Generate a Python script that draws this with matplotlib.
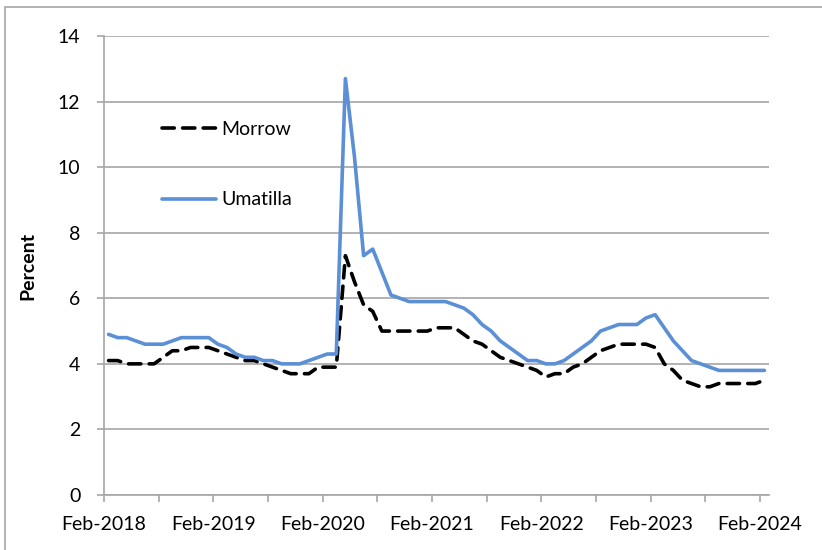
import matplotlib
matplotlib.use("Agg")
import matplotlib.pyplot as plt
from matplotlib.patches import Rectangle
import numpy as np
import pandas as pd

# monthly series, Feb-2018 .. Feb-2024
months = pd.date_range("2018-02-01", periods=73, freq="MS").strftime("%b-%Y").tolist()

morrow = [4.1, 4.1, 4.0, 4.0, 4.0, 4.0, 4.2, 4.4, 4.4, 4.5, 4.5, 4.5,
          4.4, 4.3, 4.2, 4.1, 4.1, 4.0, 3.9, 3.8, 3.7, 3.7, 3.7, 3.9,
          3.9, 3.9, 7.3, 6.5, 5.8, 5.6, 5.0, 5.0, 5.0, 5.0, 5.0, 5.0,
          5.1, 5.1, 5.1, 4.9, 4.7, 4.6, 4.4, 4.2, 4.1, 4.0, 3.9, 3.8,
          3.6, 3.7, 3.7, 3.9, 4.0, 4.2, 4.4, 4.5, 4.6, 4.6, 4.6, 4.6,
          4.5, 4.0, 3.8, 3.5, 3.4, 3.3, 3.3, 3.4, 3.4, 3.4, 3.4, 3.4,
          3.5]

umatilla = [4.9, 4.8, 4.8, 4.7, 4.6, 4.6, 4.6, 4.7, 4.8, 4.8, 4.8, 4.8,
            4.6, 4.5, 4.3, 4.2, 4.2, 4.1, 4.1, 4.0, 4.0, 4.0, 4.1, 4.2,
            4.3, 4.3, 12.7, 10.3, 7.3, 7.5, 6.8, 6.1, 6.0, 5.9, 5.9, 5.9,
            5.9, 5.9, 5.8, 5.7, 5.5, 5.2, 5.0, 4.7, 4.5, 4.3, 4.1, 4.1,
            4.0, 4.0, 4.1, 4.3, 4.5, 4.7, 5.0, 5.1, 5.2, 5.2, 5.2, 5.4,
            5.5, 5.1, 4.7, 4.4, 4.1, 4.0, 3.9, 3.8, 3.8, 3.8, 3.8, 3.8,
            3.8]

yticks = [0, 2, 4, 6, 8, 10, 12, 14]

plt.rcParams['font.family'] = ['Lato', 'DejaVu Sans']

fig = plt.figure(figsize=(8.22, 5.5), dpi=100)
ax = fig.add_axes([104/822, 1-495/550, 665/822, 459/550])

# chart border (Excel style, cut off at right/bottom)
fig.patches.append(Rectangle((5/822, -0.1), 1.2, 1.1-7/550, transform=fig.transFigure,
                             fill=False, edgecolor='#a6a6a6', linewidth=1.2))

x = np.arange(len(months)) + 0.5
ax.plot(x, morrow, color='black', lw=2.6, linestyle=(0, (3.4, 2.3)),
        dash_capstyle='round', label='Morrow')
ax.plot(x, umatilla, color='#5b8fd6', lw=2.6, solid_capstyle='round', label='Umatilla')

ax.set_xlim(0, len(months))
ax.set_ylim(0, 14)
ax.set_yticks(yticks)
ax.set_xticks(np.arange(0, len(months), 6))
ax.set_xticklabels([months[i] if i % 12 == 0 else '' for i in range(0, len(months), 6)])

ax.grid(axis='y', color='#a6a6a6', linewidth=1.2)
ax.set_axisbelow(True)
for s in ['top', 'right']:
    ax.spines[s].set_visible(False)
for s in ['left', 'bottom']:
    ax.spines[s].set_color('#a6a6a6')
    ax.spines[s].set_linewidth(1.2)
ax.tick_params(axis='y', direction='out', length=5, width=1.2, color='#a6a6a6',
               pad=12, labelsize=14)
ax.tick_params(axis='x', direction='out', length=5, width=1.2, color='#a6a6a6',
               pad=10, labelsize=14)

ax.set_ylabel('Percent', fontsize=14, fontweight='bold')
ax.yaxis.set_label_coords(-0.102, 0.5)

ax.legend(loc='upper left', bbox_to_anchor=(0.087, 0.815), frameon=False,
          fontsize=14, handlelength=2.8, handletextpad=0.25, labelspacing=2.75,
          borderpad=0, borderaxespad=0)

fig.savefig('out.png', dpi=100)
